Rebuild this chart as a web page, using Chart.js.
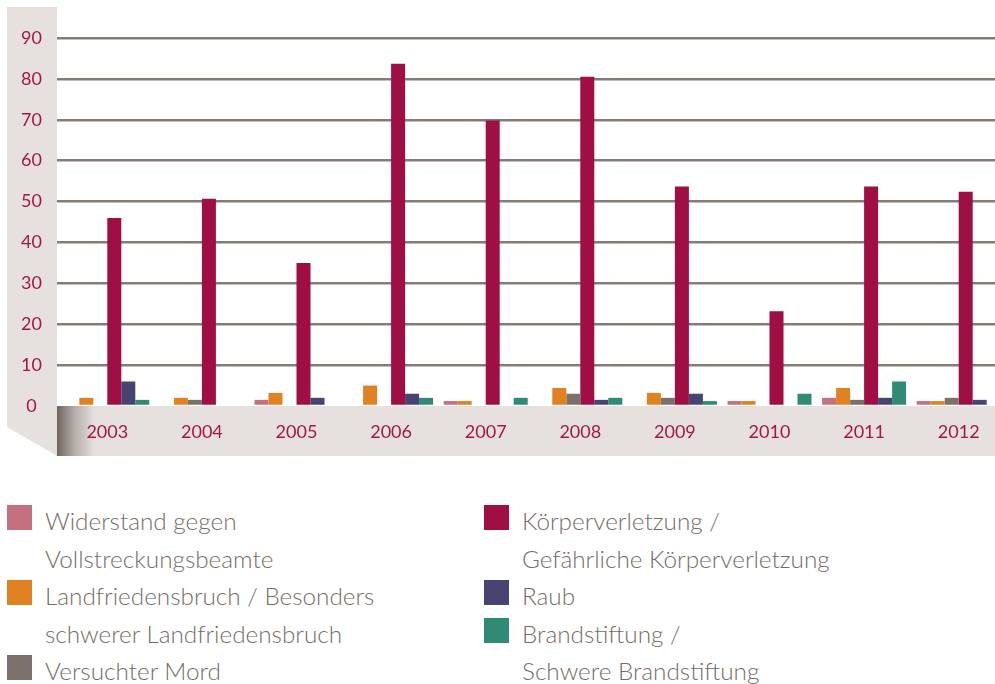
<!DOCTYPE html>
<html>
<head>
<meta charset="utf-8">
<script src="https://cdn.jsdelivr.net/npm/chart.js@4"></script>
<style>
  html, body { margin: 0; padding: 0; background: #fff; overflow: hidden; }
  #wrap { position: absolute; left: 0; top: 0; width: 1006px; height: 456px; }
  #legend { position: absolute; left: 0; top: 502px; width: 995px; font-family: Lato, sans-serif; font-weight: 300; font-size: 24.3px; color: #766d67; }
  .col { position: absolute; top: 0; }
  .item { position: relative; padding-left: 38px; line-height: 37.5px; white-space: nowrap; }
  .box { position: absolute; left: 0; top: 3px; width: 25px; height: 25px; }
</style>
</head>
<body>
<div id="wrap"><canvas id="myChart"></canvas></div>
<div id="legend"></div>
<script>
const years = ['2003', '2004', '2005', '2006', '2007', '2008', '2009', '2010', '2011', '2012'];
const yTicks = [0, 10, 20, 30, 40, 50, 60, 70, 80, 90];

const widerstand = [0, 0, 1.5, 0, 1.2, 0, 0, 1.2, 2, 1.2];
const landfrieden = [2, 2, 3.2, 5, 1.2, 4.4, 3.2, 1.2, 4.4, 1.2];
const mord = [0, 1.5, 0, 0, 0, 3, 2, 0, 1.5, 2];
const koerper = [46, 50.7, 35, 83.7, 69.8, 80.5, 53.7, 23.2, 53.7, 52.4];
const raub = [6, 0, 2, 3, 0, 1.5, 3, 0, 2, 1.5];
const brand = [1.5, 0, 0, 2, 2, 2, 1.2, 3, 6, 0];

const seriesLabels = [
  ['Widerstand gegen', 'Vollstreckungsbeamte'],
  ['Landfriedensbruch / Besonders', 'schwerer Landfriedensbruch'],
  ['Versuchter Mord'],
  ['Körperverletzung /', 'Gefährliche Körperverletzung'],
  ['Raub'],
  ['Brandstiftung /', 'Schwere Brandstiftung']
];
const seriesData = [widerstand, landfrieden, mord, koerper, raub, brand];
const colors = ['#c4707f', '#e08222', '#7b706a', '#a00f43', '#474372', '#2f8b76'];

const panelColor = '#e6e1df';
const tickColor = '#a5174a';

// grey panels behind the axes
const panels = {
  id: 'panels',
  beforeDraw(chart) {
    const ctx = chart.ctx;
    const area = chart.chartArea;
    const floorTop = chart.scales.y.getPixelForValue(0);
    const floorBottom = floorTop + 50;
    ctx.save();
    ctx.fillStyle = panelColor;
    ctx.beginPath();
    ctx.moveTo(7, 7);
    ctx.lineTo(57, 7);
    ctx.lineTo(57, floorBottom);
    ctx.lineTo(7, floorBottom - 29);
    ctx.closePath();
    ctx.fill();

    const grad = ctx.createLinearGradient(57, 0, 95, 0);
    grad.addColorStop(0, '#6f6660');
    grad.addColorStop(0.5, '#b9b1ad');
    grad.addColorStop(1, panelColor);
    ctx.fillStyle = grad;
    ctx.fillRect(57, floorTop, area.right - 57, floorBottom - floorTop);
    ctx.restore();
  }
};

const ctx = document.getElementById('myChart');
const myChart = new Chart(ctx, {
  type: 'bar',
  data: {
    labels: years,
    datasets: seriesData.map((d, i) => ({
      label: seriesLabels[i].join(' '),
      data: d,
      backgroundColor: colors[i],
      borderWidth: 0
    }))
  },
  options: {
    responsive: true,
    maintainAspectRatio: false,
    animation: false,
    layout: { padding: { top: 38, right: 0, left: 0, bottom: 0 } },
    datasets: {
      bar: { barPercentage: 1, categoryPercentage: 0.888 }
    },
    plugins: {
      legend: { display: false },
      tooltip: { enabled: false }
    },
    scales: {
      x: {
        grid: { display: false },
        border: { display: false },
        ticks: {
          color: tickColor,
          font: { family: 'Lato', size: 18 },
          padding: 7,
          maxRotation: 0
        },
        afterFit(scale) { scale.height = 50; }
      },
      y: {
        min: 0,
        max: 90,
        afterBuildTicks(scale) { scale.ticks = yTicks.map(v => ({ value: v })); },
        grid: {
          color: ctx => ctx.tick.value === 0 ? 'rgba(0,0,0,0)' : '#857c76',
          lineWidth: 2.5,
          drawTicks: true,
          tickLength: 3
        },
        border: { display: false },
        ticks: {
          color: tickColor,
          font: { family: 'Lato', size: 18 },
          padding: 15,
          crossAlign: 'center'
        },
        afterFit(scale) { scale.width = 60; }
      }
    }
  },
  plugins: [panels]
});

// legend in two columns, built from the same labels and colours
const legend = document.getElementById('legend');
const columns = [[0, 1, 2], [3, 4, 5]];
const colLeft = [7, 484];
columns.forEach((idx, c) => {
  const col = document.createElement('div');
  col.className = 'col';
  col.style.left = colLeft[c] + 'px';
  idx.forEach(i => {
    const item = document.createElement('div');
    item.className = 'item';
    const box = document.createElement('span');
    box.className = 'box';
    box.style.background = colors[i];
    item.appendChild(box);
    item.insertAdjacentHTML('beforeend', seriesLabels[i].join('<br>'));
    col.appendChild(item);
  });
  legend.appendChild(col);
});
</script>
</body>
</html>
